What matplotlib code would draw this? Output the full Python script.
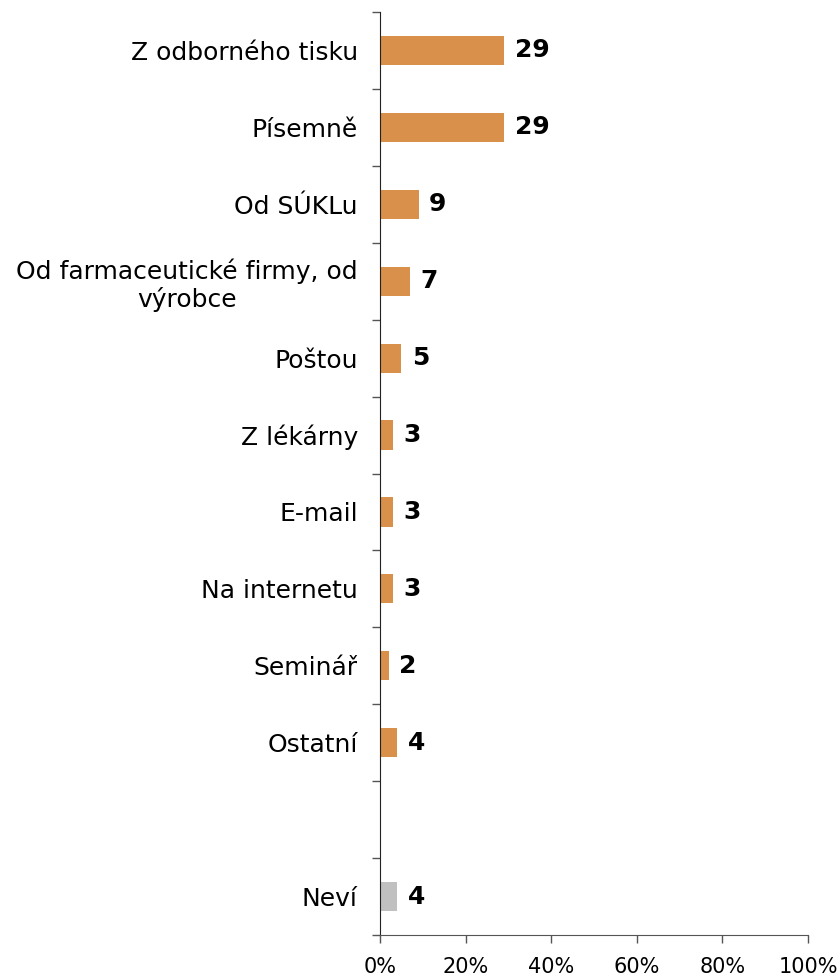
import matplotlib
matplotlib.use("Agg")
import matplotlib.pyplot as plt
from matplotlib.ticker import FixedLocator, PercentFormatter

categories = [
    "Z odborného tisku",
    "Písemně",
    "Od SÚKLu",
    "Od farmaceutické firmy, od\nvýrobce",
    "Poštou",
    "Z lékárny",
    "E-mail",
    "Na internetu",
    "Seminář",
    "Ostatní",
    "",
    "Neví",
]
values = [29, 29, 9, 7, 5, 3, 3, 3, 2, 4, None, 4]
colors = ["#D9904A"] * 10 + [None, "#C0C0C0"]
x_ticks = [0, 20, 40, 60, 80, 100]

fig = plt.figure(figsize=(8.39, 9.76), dpi=100)
ax = fig.add_axes([380 / 839, 1 - 935 / 976, 428 / 839, (935 - 12) / 976])

for i, (v, c) in enumerate(zip(values, colors)):
    if v is None:
        continue
    ax.barh(i, v, height=0.38, color=c, edgecolor="none")
    ax.annotate(str(v), xy=(v, i), xytext=(7.5, 0), textcoords="offset points",
                va="center", ha="left", fontsize=18, fontweight="bold", color="black")

ax.set_xlim(0, 100)
ax.set_ylim(len(categories) - 0.5, -0.5)

# boundary ticks on the category axis, labels at the centres
ax.yaxis.set_major_locator(FixedLocator([i - 0.5 for i in range(len(categories) + 1)]))
ax.yaxis.set_major_formatter(plt.NullFormatter())
ax.yaxis.set_minor_locator(FixedLocator(list(range(len(categories)))))
ax.set_yticklabels(categories, minor=True, fontsize=18, ha="right")
ax.tick_params(axis="y", which="minor", length=0, pad=16)
ax.tick_params(axis="y", which="major", length=6, width=1, color="#555555", direction="out")
for lbl in ax.get_yticklabels(minor=True):
    lbl.set_multialignment("center")
    lbl.set_linespacing(1.15)

ax.set_xticks(x_ticks)
ax.xaxis.set_major_formatter(PercentFormatter(decimals=0))
ax.tick_params(axis="x", length=6, width=1, color="#555555", direction="out", labelsize=15, pad=10)

for s in ["top", "right"]:
    ax.spines[s].set_visible(False)
ax.spines["left"].set_color("#222222")
ax.spines["bottom"].set_color("#555555")

fig.savefig("out.png", dpi=100)
